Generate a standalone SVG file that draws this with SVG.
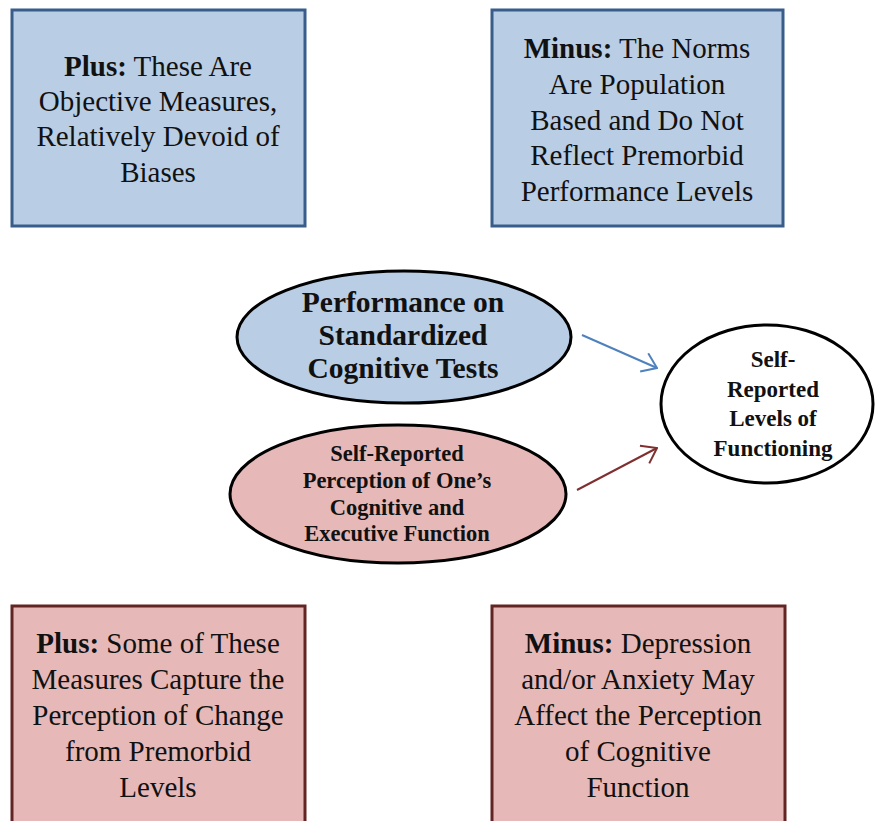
<svg xmlns="http://www.w3.org/2000/svg" width="875" height="821" viewBox="0 0 875 821">
<style>
.bbox{fill:#b9cde5;stroke:#385d8a;stroke-width:3}
.pbox{fill:#e6b9b8;stroke:#632523;stroke-width:3}
.t{font-family:"Liberation Serif","Times New Roman",serif;font-size:29px;fill:#111;text-anchor:middle}
.b{font-weight:bold}
.e{font-family:"Liberation Serif","Times New Roman",serif;font-weight:bold;fill:#111;text-anchor:middle}
.ell{stroke:#000;stroke-width:3}
</style>
<defs>
<marker id="ab" viewBox="0 0 16 22" refX="15" refY="11" markerWidth="16" markerHeight="22" markerUnits="userSpaceOnUse" orient="auto">
<path d="M1,1 L15,11 L1,21" fill="none" stroke="#4f81bd" stroke-width="2"/>
</marker>
<marker id="ar" viewBox="0 0 16 22" refX="15" refY="11" markerWidth="16" markerHeight="22" markerUnits="userSpaceOnUse" orient="auto">
<path d="M1,1 L15,11 L1,21" fill="none" stroke="#7f2f2f" stroke-width="2"/>
</marker>
</defs>
<rect width="875" height="821" fill="#fff"/>

<g id="plus-top">
<rect class="bbox" x="12" y="10" width="293" height="216"/>
<text class="t" x="158" y="76"><tspan class="b">Plus:</tspan> These Are</text>
<text class="t" x="158" y="111">Objective Measures,</text>
<text class="t" x="158" y="146">Relatively Devoid of</text>
<text class="t" x="158" y="182">Biases</text>
</g>

<g id="minus-top">
<rect class="bbox" x="492" y="10" width="291" height="216"/>
<text class="t" x="637" y="58"><tspan class="b">Minus:</tspan> The Norms</text>
<text class="t" x="637" y="94">Are Population</text>
<text class="t" x="637" y="130">Based and Do Not</text>
<text class="t" x="637" y="165">Reflect Premorbid</text>
<text class="t" x="637" y="201">Performance Levels</text>
</g>

<g id="perf">
<ellipse class="ell" cx="404" cy="337" rx="167" ry="66" fill="#b9cde5"/>
<text class="e" font-size="29.5" x="403" y="312">Performance on</text>
<text class="e" font-size="29.5" x="403" y="345">Standardized</text>
<text class="e" font-size="29.5" x="403" y="378">Cognitive Tests</text>
</g>

<g id="selfperc">
<ellipse class="ell" cx="398" cy="494" rx="168" ry="69" fill="#e6b9b8"/>
<text class="e" font-size="22.5" x="397" y="461">Self-Reported</text>
<text class="e" font-size="22.5" x="397" y="488">Perception of One’s</text>
<text class="e" font-size="22.5" x="397" y="515">Cognitive and</text>
<text class="e" font-size="22.5" x="397" y="541">Executive Function</text>
</g>

<g id="selfrep">
<ellipse class="ell" cx="767" cy="404" rx="106" ry="79" fill="#fff"/>
<text class="e" font-size="23" x="773" y="367">Self-</text>
<text class="e" font-size="23" x="773" y="397">Reported</text>
<text class="e" font-size="23" x="773" y="426">Levels of</text>
<text class="e" font-size="23" x="773" y="456">Functioning</text>
</g>

<g id="plus-bottom">
<rect class="pbox" x="12" y="606" width="293" height="230"/>
<text class="t" x="158" y="653"><tspan class="b">Plus:</tspan> Some of These</text>
<text class="t" x="158" y="689">Measures Capture the</text>
<text class="t" x="158" y="725">Perception of Change</text>
<text class="t" x="158" y="761">from Premorbid</text>
<text class="t" x="158" y="797">Levels</text>
</g>

<g id="minus-bottom">
<rect class="pbox" x="492" y="606" width="293" height="230"/>
<text class="t" x="638" y="653"><tspan class="b">Minus:</tspan> Depression</text>
<text class="t" x="638" y="689">and/or Anxiety May</text>
<text class="t" x="638" y="725">Affect the Perception</text>
<text class="t" x="638" y="761">of Cognitive</text>
<text class="t" x="638" y="797">Function</text>
</g>

<g id="connectors">
<line x1="582" y1="335" x2="657" y2="368" stroke="#4f81bd" stroke-width="2" marker-end="url(#ab)"/>
<line x1="577" y1="490" x2="657" y2="448" stroke="#7f2f2f" stroke-width="2" marker-end="url(#ar)"/>
</g>
</svg>
